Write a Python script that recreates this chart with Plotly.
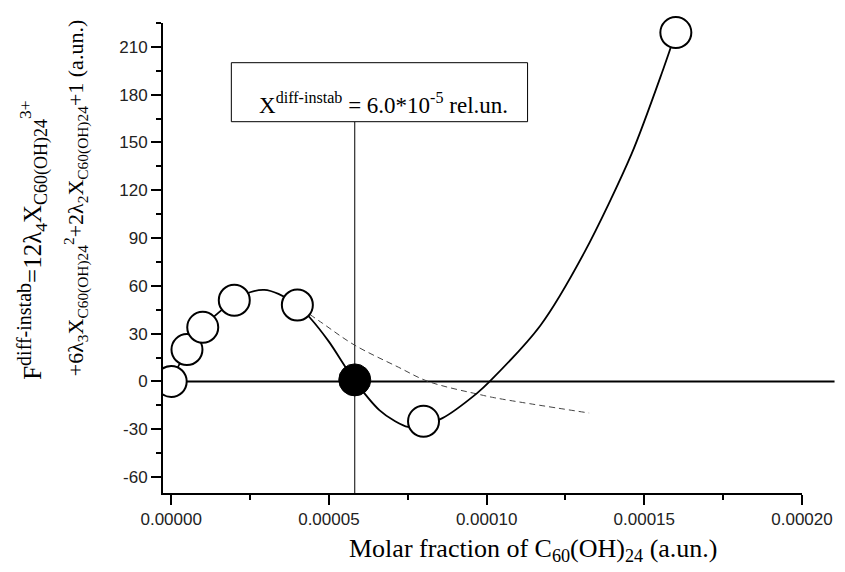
import plotly.graph_objects as go

# ---- data ----
pts_x = [0.0, 5e-6, 1e-5, 2e-5, 4e-5, 8e-5, 1.6e-4]
pts_y = [0, 20, 34, 51, 48, -25, 219]

crit_x = [5.82e-5]
crit_y = [1]

curve_x = [0.0, 5e-6, 1e-5, 2e-5, 2.5e-5, 2.95e-5, 3.4e-5, 4e-5, 4.4e-5, 5.0e-5, 5.8e-5,
           6.6e-5, 7.1e-5, 7.5e-5, 8.0e-5, 8.6e-5, 9.7e-5, 1.01e-4, 1.17e-4, 1.31e-4,
           1.46e-4, 1.56e-4, 1.6e-4]
curve_y = [0, 20, 34, 51, 56, 57.5, 55, 48, 40, 25, 1,
           -18, -25, -28.5, -27, -23, -7.3, 0, 35, 81,
           143, 196, 219]

dash_x = [4.4e-5, 4.8e-5, 5.8e-5, 7.2e-5, 8.15e-5, 9.8e-5, 1.03e-4, 1.325e-4]
dash_y = [42, 36.5, 23, 9, 0, -8.3, -10.4, -19.8]

x_ticks = [0.0, 5e-5, 1e-4, 1.5e-4, 2e-4]
x_tick_text = ["0.00000", "0.00005", "0.00010", "0.00015", "0.00020"]
y_ticks = [-60, -30, 0, 30, 60, 90, 120, 150, 180, 210]
y_tick_text = ["-60", "-30", "0", "30", "60", "90", "120", "150", "180", "210"]

x_range = [-2.6e-6, 2.0e-4]
y_range = [-70, 225]

serif = "Liberation Serif, Times New Roman, serif"
sans = "Liberation Sans, Arial, sans-serif"

fig = go.Figure()

fig.add_trace(go.Scatter(x=dash_x, y=dash_y, mode="lines",
                         line=dict(color="#444444", width=1, dash="6px,4px", shape="spline"),
                         hoverinfo="skip", showlegend=False))
fig.add_trace(go.Scatter(x=curve_x, y=curve_y, mode="lines",
                         line=dict(color="black", width=1.8, shape="spline", smoothing=0.8),
                         hoverinfo="skip", showlegend=False))
# first point is clipped by the axis in the reference
fig.add_trace(go.Scatter(x=pts_x[:1], y=pts_y[:1], mode="markers", cliponaxis=True,
                         marker=dict(size=31, color="white", line=dict(color="black", width=2)),
                         hoverinfo="skip", showlegend=False))
fig.add_trace(go.Scatter(x=pts_x[1:], y=pts_y[1:], mode="markers", cliponaxis=False,
                         marker=dict(size=31, color="white", line=dict(color="black", width=2)),
                         hoverinfo="skip", showlegend=False))
fig.add_trace(go.Scatter(x=crit_x, y=crit_y, mode="markers", cliponaxis=False,
                         marker=dict(size=32, color="black", line=dict(color="black", width=1)),
                         hoverinfo="skip", showlegend=False))

L, R, T, B = 163, 811, 23, 493
W, H = 845, 572

def px(xp):
    return (xp - L) / (R - L)

def py(yp):
    return (B - yp) / (B - T)

shapes = [
    # zero line (extends past the x-axis end)
    dict(type="line", xref="paper", yref="y", x0=0, x1=px(844), y0=0, y1=0,
         line=dict(color="black", width=2), layer="below"),
    # vertical line at critical point
    dict(type="line", xref="x", yref="paper", x0=crit_x[0], x1=crit_x[0], y0=0, y1=py(121.7),
         line=dict(color="black", width=1), layer="below"),
    # box
    dict(type="rect", xref="paper", yref="paper", x0=px(232.3), x1=px(532.7),
         y0=py(121.7), y1=py(62.7), line=dict(color="black", width=1), fillcolor="white"),
]

annotations = [
    dict(text="X<sup>diff-instab</sup> = 6.0*10<sup>-5</sup> rel.un.",
         xref="paper", yref="paper", x=px(386.5), y=py(120), xanchor="center", yanchor="bottom",
         showarrow=False, font=dict(family=serif, size=23, color="black")),
    dict(text="Molar fraction of C<sub>60</sub>(OH)<sub>24</sub> (a.un.)",
         xref="paper", yref="paper", x=px(539), y=py(550), xanchor="center", yanchor="middle",
         showarrow=False, font=dict(family=serif, size=26, color="black")),
    dict(text="F<sup>" + '<span style="font-size:20px">' + "diff-instab</span></sup>=12λ<sub>4</sub>X<sub>"
              + '<span style="font-size:18px">' + "C60(OH)24</span></sub><sup>3</sup><sup>+</sup>",
         xref="paper", yref="paper", x=px(31), y=py(240), xanchor="center", yanchor="middle",
         textangle=-90, showarrow=False, font=dict(family=serif, size=25, color="black")),
    dict(text="+6λ<sub>3</sub>X<sub>C60(OH)24</sub><sup>2</sup>+2λ<sub>2</sub>X<sub>C60(OH)24</sub>+1 (a.un.)",
         xref="paper", yref="paper", x=px(75), y=py(198), xanchor="center", yanchor="middle",
         textangle=-90, showarrow=False, font=dict(family=serif, size=22, color="black")),
]

fig.update_layout(
    width=W, height=H,
    margin=dict(l=L, r=W - R, t=T, b=H - B, pad=0),
    paper_bgcolor="white", plot_bgcolor="white",
    shapes=shapes, annotations=annotations,
    hovermode=False,
    xaxis=dict(range=x_range, showgrid=False, zeroline=False, showline=True,
               linecolor="black", linewidth=2, ticks="outside", ticklen=10, tickwidth=2,
               tickcolor="black", tickvals=x_ticks, ticktext=x_tick_text,
               minor=dict(ticks="outside", ticklen=5, tickwidth=2, tickcolor="black", dtick=2.5e-5, tick0=0),
               tickfont=dict(family=sans, size=17, color="#222222"), layer="below traces"),
    yaxis=dict(range=y_range, showgrid=False, zeroline=False, showline=True,
               linecolor="black", linewidth=2, ticks="outside", ticklen=10, tickwidth=2,
               tickcolor="black", tickvals=y_ticks, ticktext=y_tick_text,
               minor=dict(ticks="outside", ticklen=5, tickwidth=2, tickcolor="black", dtick=15, tick0=0),
               tickfont=dict(family=sans, size=17, color="#222222"), layer="below traces"),
)

fig.write_html("out.html",
               config={"displayModeBar": False},
               post_script="document.body.style.margin='0';document.body.style.padding='0';")
